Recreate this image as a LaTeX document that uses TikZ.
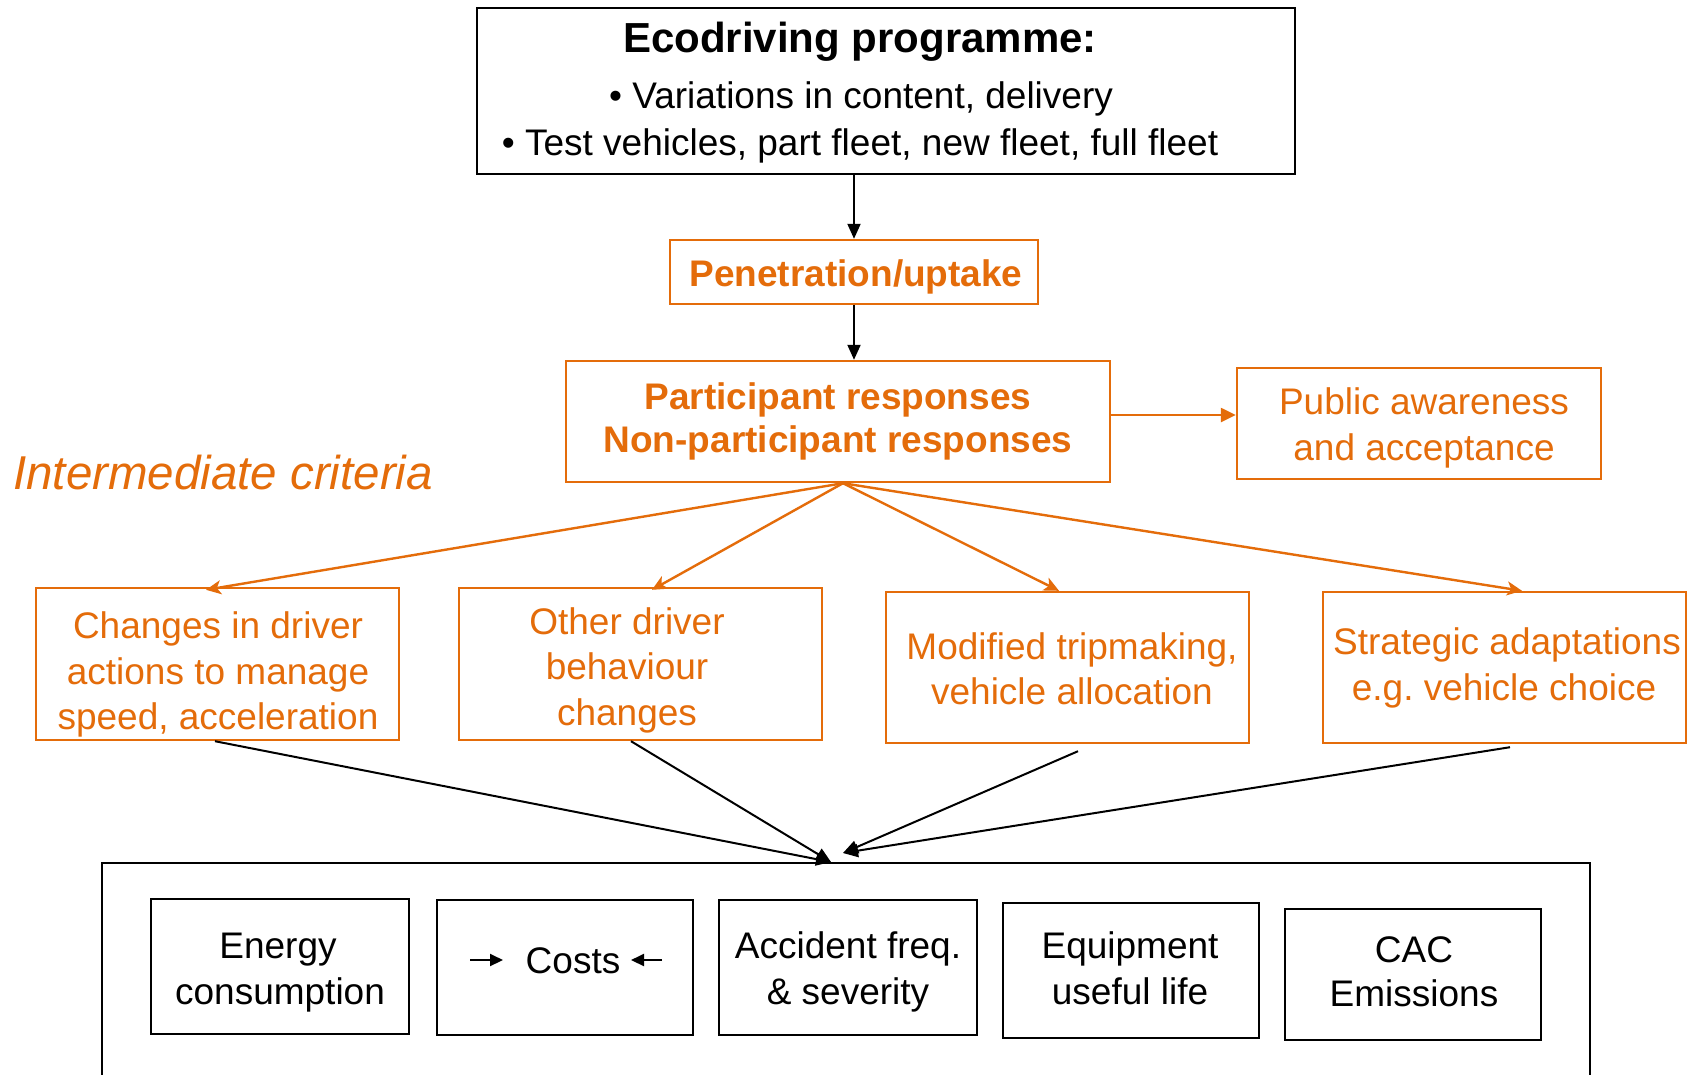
\documentclass[tikz,border=0pt]{standalone}
\usepackage{fontspec}
\setmainfont{Liberation Sans}
\usetikzlibrary{arrows.meta}
\definecolor{orng}{RGB}{228,108,10}
\begin{document}
\frenchspacing
\begin{tikzpicture}[x=1pt,y=-1pt,
  bbox/.style={draw=black,line width=2.4pt,inner sep=0pt},
  obox/.style={draw=orng,line width=2.4pt,inner sep=0pt},
  txt/.style={anchor=base,inner sep=0pt,font=\fontsize{37}{44}\selectfont},
  otxt/.style={txt,text=orng},
  barrow/.style={draw=black,line width=2pt,-{Triangle[length=15pt,width=13pt]}},
  oarrow/.style={draw=orng,line width=2.4pt,-{Triangle[length=15pt,width=14pt]}},
  osarrow/.style={draw=orng,line width=2.4pt,-{Stealth[length=15pt,width=14pt,inset=4pt]}}]
\clip (0,0) rectangle (1696,1074);
\fill[white] (0,0) rectangle (1696,1074);
% top
\node[bbox,minimum width=818pt,minimum height=166pt] (prog) at (886,91) {};
\node[txt,font=\bfseries\fontsize{42}{50}\selectfont] (t1) at (860,52) {Ecodriving programme:};
\node[txt] (t2) at (861,108) {• Variations in content, delivery};
\node[txt] (t3) at (860,155) {• Test vehicles, part fleet, new fleet, full fleet};
% penetration
\node[obox,minimum width=368pt,minimum height=64pt] (pen) at (854,272) {};
\node[otxt,font=\bfseries\fontsize{37}{44}\selectfont] (pent) at (856,286) {Penetration/uptake};
% participant
\node[obox,minimum width=544pt,minimum height=121pt] (part) at (838,421.5) {};
\node[otxt,font=\bfseries\fontsize{37}{44}\selectfont] (pa1) at (838,409) {Participant responses};
\node[otxt,font=\bfseries\fontsize{37}{44}\selectfont] (pa2) at (838,452) {Non-participant responses};
% public
\node[obox,minimum width=364pt,minimum height=111pt] (pub) at (1419,423.5) {};
\node[otxt] (pu1) at (1424,414) {Public awareness};
\node[otxt] (pu2) at (1424,460) {and acceptance};
% intermediate
\node[otxt,anchor=base west,font=\itshape\fontsize{47.5}{55}\selectfont] (ic) at (13,489) {Intermediate criteria};
% row
\node[obox,minimum width=363pt,minimum height=152pt] (chg) at (217.5,664) {};
\node[otxt] (c1a) at (218,638) {Changes in driver};
\node[otxt] (c1b) at (218,684) {actions to manage};
\node[otxt] (c1c) at (218,729) {speed, acceleration};
\node[obox,minimum width=363pt,minimum height=152pt] (oth) at (640.5,664) {};
\node[otxt] (o1a) at (627,634) {Other driver};
\node[otxt] (o1b) at (627,679) {behaviour};
\node[otxt] (o1c) at (627,725) {changes};
\node[obox,minimum width=363pt,minimum height=151pt] (mod) at (1067.5,667.5) {};
\node[otxt] (m1a) at (1072,659) {Modified tripmaking,};
\node[otxt] (m1b) at (1072,704) {vehicle allocation};
\node[obox,minimum width=363pt,minimum height=151pt] (str) at (1504.5,667.5) {};
\node[otxt] (s1a) at (1507,654) {Strategic adaptations};
\node[otxt] (s1b) at (1504,700) {e.g.\ vehicle choice};
% bottom
\draw[black,line width=2.4pt] (102,1090) -- (102,863) -- (1590,863) -- (1590,1090);
\node[bbox,minimum width=258pt,minimum height=135pt] (en) at (280,966.5) {};
\node[txt] (e1) at (278,958) {Energy};
\node[txt] (e2) at (280,1004) {consumption};
\node[bbox,minimum width=256pt,minimum height=135pt] (co) at (565,967.5) {};
\node[txt] (cst) at (573,973) {Costs};
\coordinate (ca1) at (470,960); \coordinate (ca2) at (503,960);
\coordinate (cb1) at (662,960); \coordinate (cb2) at (631,960);
\draw[line width=2pt,-{Triangle[length=13pt,width=12pt]}] (ca1) -- (ca2);
\draw[line width=2pt,-{Triangle[length=13pt,width=12pt]}] (cb1) -- (cb2);
\node[bbox,minimum width=258pt,minimum height=135pt] (ac) at (848,967.5) {};
\node[txt] (a1) at (848,958) {Accident freq.};
\node[txt] (a2) at (848,1004) {\& severity};
\node[bbox,minimum width=256pt,minimum height=135pt] (eq) at (1131,970.5) {};
\node[txt] (q1) at (1130,958) {Equipment};
\node[txt] (q2) at (1130,1004) {useful life};
\node[bbox,minimum width=256pt,minimum height=131pt] (cac) at (1413,974.5) {};
\node[txt] (k1) at (1414,962) {CAC};
\node[txt] (k2) at (1414,1006) {Emissions};
% arrows
\draw[barrow] (prog.south -| pen.north) -- (pen.north);
\draw[barrow] (pen.south) -- (pen.south |- part.north);
\draw[oarrow] ([yshift=6.5pt]part.east) -- ([yshift=8.5pt]pub.west);
\coordinate (apex) at ([xshift=5pt]part.south);
\draw[osarrow] (apex) -- ([xshift=-11.5pt,yshift=-3pt]chg.north);
\draw[osarrow] (apex) -- ([xshift=11.5pt,yshift=-3pt]oth.north);
\draw[osarrow] (apex) -- ([xshift=-8.5pt]mod.north);
\draw[osarrow] (apex) -- ([xshift=17.5pt]str.north);
\coordinate (cv1) at (831,862);
\coordinate (cv2) at (843,853);
\draw[barrow] ([xshift=-2.5pt]chg.south) -- (cv1);
\draw[barrow] ([xshift=-9.5pt]oth.south) -- (cv1);
\draw[barrow] ([xshift=10.5pt,yshift=-7pt]mod.south) -- (cv2);
\draw[barrow] ([xshift=5.5pt,yshift=-3pt]str.south) -- (cv2);
\end{tikzpicture}
\end{document}
